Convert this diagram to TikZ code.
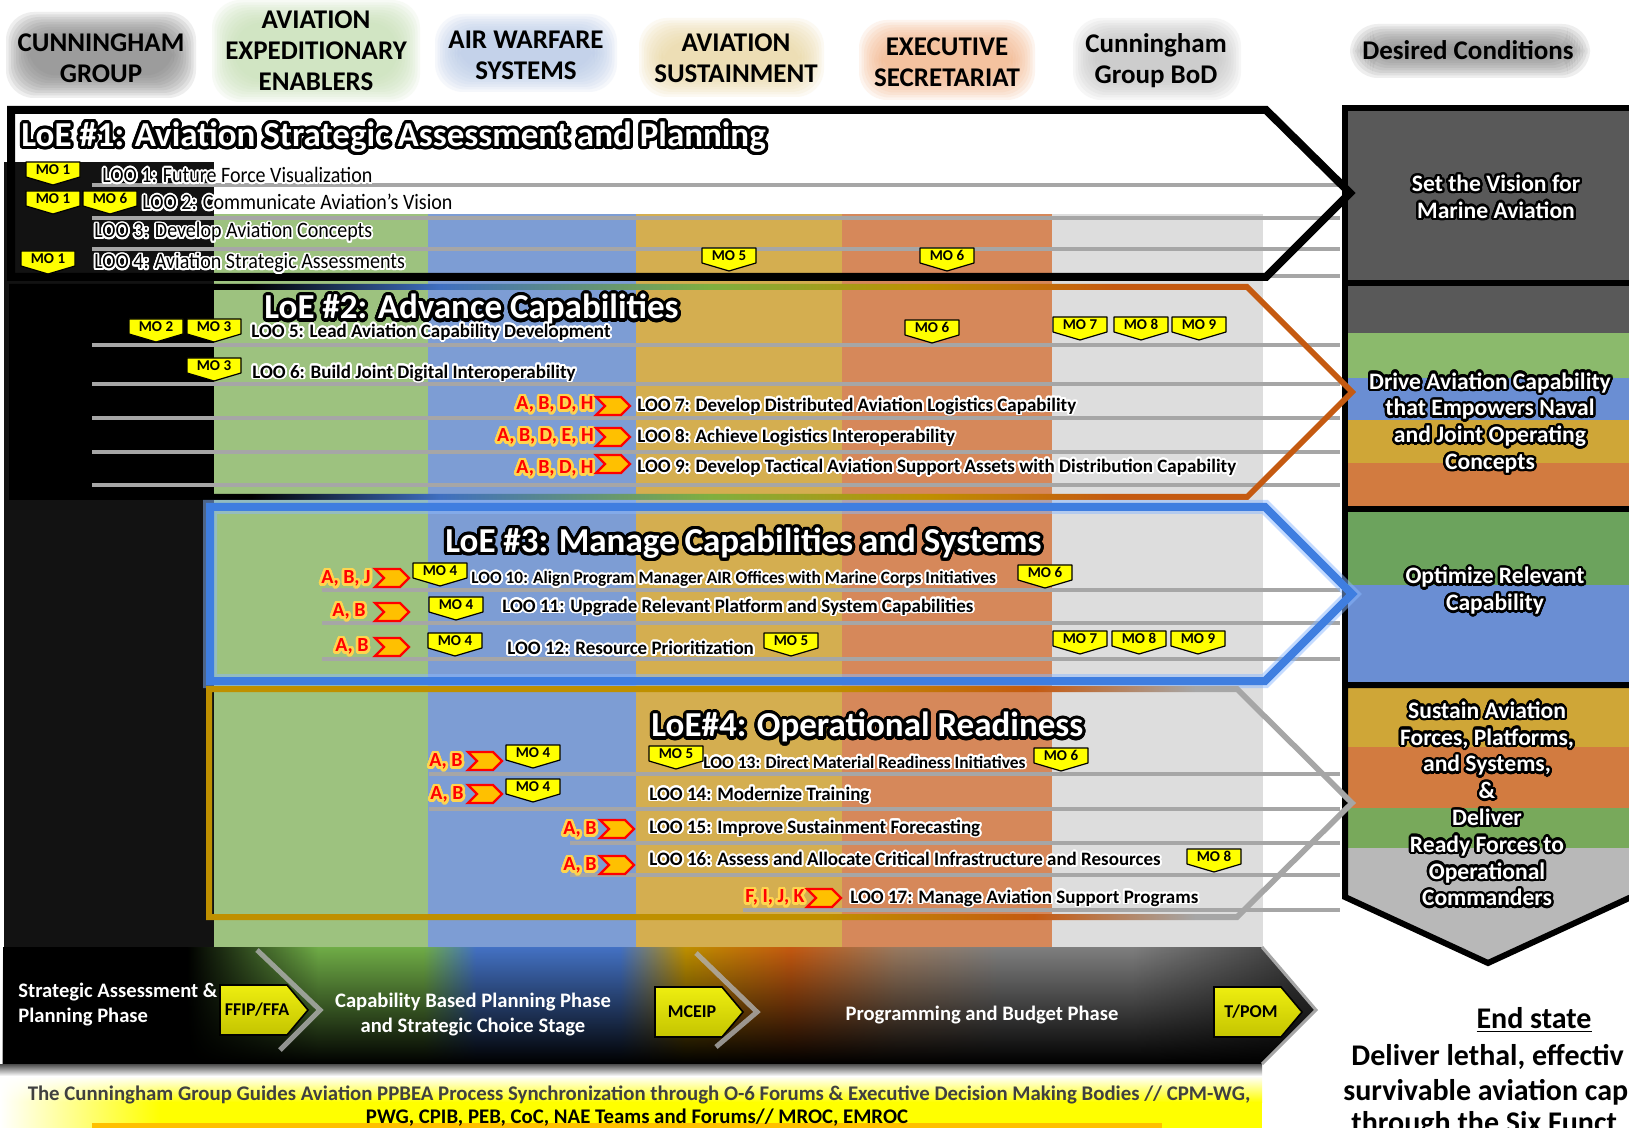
\documentclass[tikz,border=0pt]{standalone}
\usepackage{fontspec}
\setmainfont{Carlito}
\newfontfamily\narrowfont[FakeStretch=0.91]{Carlito}
\usepackage[copies]{contour}
\usetikzlibrary{fadings}

\definecolor{colgreen}{HTML}{9DC27F}
\definecolor{colblue}{HTML}{7D9DD4}
\definecolor{colgold}{HTML}{D4AE50}
\definecolor{colorange}{HTML}{D6885A}
\definecolor{colgray}{HTML}{DDDDDD}
\definecolor{leftblack}{HTML}{121212}
\definecolor{rowgray}{HTML}{A6A6A6}
\definecolor{moyellow}{HTML}{FFFF00}
\definecolor{abred}{HTML}{FF0000}
\definecolor{abfill}{HTML}{FFC000}
\definecolor{abglow}{HTML}{FFD54F}
\definecolor{panelgray}{HTML}{595959}
\definecolor{dcgreen}{HTML}{8BBA6C}
\definecolor{dcblue}{HTML}{6A8ED3}
\definecolor{dcgold}{HTML}{CFA637}
\definecolor{dcorange}{HTML}{D27B40}
\definecolor{dcgreentwo}{HTML}{6CA35D}
\definecolor{dcgreenthree}{HTML}{78A95B}
\definecolor{dcgray}{HTML}{B8B8B8}
\definecolor{edgeblue}{HTML}{3F6FC0}
\definecolor{edgegreen}{HTML}{7FAF3F}
\definecolor{edgegold}{HTML}{BF9000}
\definecolor{edgeorange}{HTML}{C55A11}
\definecolor{edgegray}{HTML}{A6A6A6}
\definecolor{loethree}{HTML}{3F7EE0}
\definecolor{loethreeglow}{HTML}{8AB8FF}
\definecolor{bandgreen}{HTML}{70AD47}
\definecolor{bandblue}{HTML}{4472C4}
\definecolor{bandgold}{HTML}{BF9000}
\definecolor{bandorange}{HTML}{C55A11}
\definecolor{bandbrown}{HTML}{9A7A60}
\definecolor{bandgray}{HTML}{7F7F7F}
\definecolor{gateyellow}{HTML}{EEEE10}
\definecolor{gateolive}{HTML}{C4C400}
\definecolor{bannertext}{HTML}{404040}
\definecolor{bannerline}{HTML}{FFC000}
\definecolor{glowgray}{HTML}{7F7F7F}
\definecolor{glowgreen}{HTML}{C5E0B3}
\definecolor{glowblue}{HTML}{B4C7E7}
\definecolor{glowgold}{HTML}{EAD7A0}
\definecolor{gloworange}{HTML}{F4B183}
\definecolor{glowlight}{HTML}{C0C0C0}

% shadings: visible part runs from 25bp to 75bp
\pgfdeclarehorizontalshading{loetwoedge}{100bp}{color(0bp)=(black); color(25bp)=(black); color(34bp)=(black); color(41bp)=(edgeblue); color(51bp)=(edgegreen); color(59bp)=(edgegold); color(66bp)=(edgeorange); color(100bp)=(edgeorange)}
\pgfdeclarehorizontalshading{loefouredge}{100bp}{color(0bp)=(edgegold); color(52bp)=(edgegold); color(61bp)=(edgeorange); color(68bp)=(edgegray); color(100bp)=(edgegray)}
\pgfdeclarehorizontalshading{phaseband}{100bp}{color(0bp)=(black); color(32bp)=(black); color(37bp)=(bandgreen); color(41bp)=(bandgreen); color(43bp)=(bandblue); color(48.5bp)=(bandblue); color(51bp)=(bandgold); color(55bp)=(bandorange); color(59bp)=(bandbrown); color(63bp)=(bandgray); color(68bp)=(bandgray); color(74bp)=(black!75); color(100bp)=(black!75)}
\tikzfading[name=bandfade, top color=transparent!100, middle color=transparent!80, bottom color=transparent!0]

\contourlength{0.9pt}
\contournumber{24}
\newcommand{\whitehalo}[1]{\contour{white}{#1}}
\newcommand{\blackhalo}[1]{\contour{black}{#1}}
\newcommand{\yellowhalo}[1]{\contour{abglow}{#1}}
\newcommand{\hdrglow}[5]{%
  \foreach \g in {0,...,9}
    \fill[#5, opacity=0.13, rounded corners=14pt] (#1+2.5*\g,#2+2.5*\g) rectangle (#3-2.5*\g,#4-2.5*\g);
}

\tikzset{
  motag/.pic={
    \draw[fill=moyellow, line width=0.6pt, line join=round] (-27,-12) -- (27,-12) -- (27,3) -- (0,11) -- (-27,3) -- cycle;
    \node[inner sep=0pt, font=\bfseries\fontsize{7.5}{8}\selectfont] (-label) at (0,-4.5) {#1};
  },
  abchev/.pic={
    \draw[fill=abfill, draw=abred, line width=1.2pt, line join=miter] (-17,-9) -- (8,-9) -- (17,0) -- (8,9) -- (-17,9) -- (-8,0) -- cycle;
  },
  gate/.pic={
    \draw[top color=gateyellow, bottom color=gateolive, line width=0.8pt] (-44,-25) -- (23,-25) -- (44,0) -- (23,25) -- (-44,25) -- cycle;
    \node[inner sep=0pt, font=\bfseries\fontsize{9}{10}\selectfont] (-label) at (-7,0) {#1};
  }
}

\begin{document}
\begin{tikzpicture}[x=0.5pt, y=-0.5pt,
  hdr/.style={align=center, inner sep=0pt, font=\bfseries\fontsize{13.5}{15.5}\selectfont},
  loetitle/.style={anchor=west, inner sep=0pt, text=white, font=\bfseries\fontsize{17.5}{18}\selectfont},
  loo/.style={anchor=west, inner sep=0pt, font=\bfseries\fontsize{#1}{#1}\selectfont},
  loo/.default=9.5,
  looone/.style={anchor=west, inner sep=0pt, font=\narrowfont\fontsize{11}{11}\selectfont},
  abc/.style={anchor=east, inner sep=0pt, text=abred, font=\bfseries\fontsize{10}{10}\selectfont},
  dctext/.style={align=center, inner sep=0pt, text=white, font=\bfseries\fontsize{11.8}{13.4}\selectfont},
  phase/.style={inner sep=0pt, text=white, font=\bfseries\fontsize{10.3}{12.5}\selectfont},
  bannertxt/.style={inner sep=0pt, font=\bfseries\fontsize{10.4}{11}\selectfont},
  endtext/.style={inner sep=0pt, font=\bfseries\fontsize{15}{16}\selectfont},
  rowline/.style={draw=rowgray, line width=2pt},
]
\useasboundingbox (0,0) rectangle (1629,1128);
\fill[white] (0,0) rectangle (1629,1128);

% column headers
\hdrglow{6}{12}{196}{98}{glowgray}
\hdrglow{212}{0}{420}{102}{glowgreen}
\hdrglow{435}{14}{617}{92}{glowblue}
\hdrglow{639}{18}{824}{97}{glowgold}
\hdrglow{859}{20}{1035}{100}{gloworange}
\hdrglow{1073}{18}{1241}{100}{glowlight}
\hdrglow{1350}{24}{1590}{78}{glowgray}
\node[hdr] (hdrcg) at (101,58) {CUNNINGHAM\\GROUP};
\node[hdr] (hdraee) at (316,51) {AVIATION\\EXPEDITIONARY\\ENABLERS};
\node[hdr] (hdraws) at (526,55) {AIR WARFARE\\SYSTEMS};
\node[hdr] (hdras) at (736,58) {AVIATION\\SUSTAINMENT};
\node[hdr] (hdres) at (947,62) {EXECUTIVE\\SECRETARIAT};
\node[hdr] (hdrbod) at (1156,61) {Cunningham\\Group BoD};
\node[hdr] (hdrdc) at (1468,50) {Desired Conditions};

% office columns
\fill[colgreen] (214,214) rectangle (428,947);
\fill[colblue] (428,214) rectangle (636,947);
\fill[colgold] (636,214) rectangle (842,947);
\fill[colorange] (842,214) rectangle (1052,947);
\fill[colgray] (1052,214) rectangle (1263,947);
\fill[leftblack] (4,162) rectangle (214,947);
\fill[black] (10,287) rectangle (214,497);

% desired conditions
\fill[panelgray] (1345,108) rectangle (1640,283);
\fill[panelgray] (1345,283) rectangle (1640,333);
\fill[dcgreen] (1345,333) rectangle (1640,378);
\fill[dcblue] (1345,378) rectangle (1640,420);
\fill[dcgold] (1345,420) rectangle (1640,463);
\fill[dcorange] (1345,463) rectangle (1640,509);
\fill[dcgreentwo] (1345,509) rectangle (1640,585);
\fill[dcblue] (1345,585) rectangle (1640,685);
\begin{scope}
  \clip (1345,685) -- (1345,897) -- (1488,963) -- (1640,893) -- (1640,685) -- cycle;
  \fill[dcgold] (1345,685) rectangle (1640,747);
  \fill[dcorange] (1345,747) rectangle (1640,808);
  \fill[dcgreenthree] (1345,808) rectangle (1640,848);
  \fill[dcgray] (1345,848) rectangle (1640,970);
\end{scope}
\draw[line width=3pt] (1345,108) rectangle (1640,283);
\draw[line width=3pt] (1345,283) rectangle (1640,509);
\draw[line width=3pt] (1345,509) rectangle (1640,685);
\draw[line width=3pt, line join=miter] (1345,685) -- (1345,897) -- (1488,963) -- (1640,893) -- (1640,685) -- cycle;
\begin{scope}[every node/.append style={execute at begin node={\contourlength{1.2pt}}}]
\node[dctext] (dcvision) at (1496,198) {\blackhalo{Set the Vision for}\\\blackhalo{Marine Aviation}};
\node[dctext] (dcdrive) at (1490,424) {\blackhalo{Drive Aviation Capability}\\\blackhalo{that  Empowers Naval}\\\blackhalo{and Joint Operating}\\\blackhalo{Concepts}};
\node[dctext] (dcoptimize) at (1495,592) {\blackhalo{Optimize Relevant}\\\blackhalo{Capability}};
\node[dctext] (dcsustain) at (1487,805) {\blackhalo{Sustain Aviation}\\\blackhalo{Forces, Platforms,}\\\blackhalo{and Systems,}\\\blackhalo{\&}\\\blackhalo{Deliver}\\\blackhalo{Ready Forces to}\\\blackhalo{Operational}\\\blackhalo{Commanders}};
\end{scope}

% LOO rows
\foreach \y/\xs in {185/92, 218/92, 249/92, 276/92, 345/92, 384/92, 418/92, 452/92, 485/92,
                    590/322, 623/322, 659/322, 774/429, 809/429, 843/570, 875/570, 910/743}
  \draw[rowline] (\xs,\y) -- (1340,\y);

% lines of effort
\draw[line width=4pt, line join=miter] (11,110) -- (1266,110) -- (1350,193) -- (1266,277) -- (11,277) -- cycle;
\shade[shading=loetwoedge, even odd rule] (9,284) -- (1248,284) -- (1356,392) -- (1248,500) -- (9,500) -- cycle
                                           (15,290) -- (1246,290) -- (1348,392) -- (1246,494) -- (15,494) -- cycle;
\draw[loethreeglow, opacity=0.5, line width=7pt, line join=miter] (210,507) -- (1265,507) -- (1352,594) -- (1265,681) -- (210,681) -- cycle;
\draw[loethree, line width=4pt, line join=miter] (210,507) -- (1265,507) -- (1352,594) -- (1265,681) -- (210,681) -- cycle;
\shade[shading=loefouredge, even odd rule] (206,686) -- (1238,686) -- (1356,803) -- (1238,920) -- (206,920) -- cycle
                                           (212,692) -- (1236,692) -- (1348,803) -- (1236,914) -- (212,914) -- cycle;

\node[loetitle] (loe1) at (21,139) {\contourlength{1.6pt}\blackhalo{LoE \#1: Aviation Strategic Assessment and Planning}};
\node[loetitle] (loe2) at (264,311) {\contourlength{1.6pt}\blackhalo{LoE \#2: Advance Capabilities}};
\node[loetitle] (loe3) at (445,545) {\contourlength{1.6pt}\blackhalo{LoE \#3: Manage Capabilities and Systems}};
\node[loetitle] (loe4) at (651,729) {\contourlength{1.6pt}\blackhalo{LoE\#4: Operational Readiness}};

% LoE 1
\node[looone] (loo1) at (102,176) {\whitehalo{LOO 1: Future Force Visualization}};
\node[looone] (loo2) at (142,203) {\whitehalo{LOO 2: Communicate Aviation’s  Vision}};
\node[looone] (loo3) at (94,233) {\whitehalo{LOO 3: Develop Aviation Concepts}};
\node[looone] (loo4) at (94,264) {\whitehalo{LOO 4: Aviation Strategic Assessments}};
\pic (moa) at (53,174) {motag=MO 1};
\pic (mob) at (53,203) {motag=MO 1};
\pic (moc) at (110,203) {motag=MO 6};
\pic (mod) at (48,263) {motag=MO 1};
\pic (moe) at (729,260) {motag=MO 5};
\pic (mof) at (947,260) {motag=MO 6};

% LoE 2
\node[loo] (loo5) at (251,333) {\whitehalo{LOO 5: Lead Aviation Capability  Development}};
\node[loo] (loo6) at (252,374) {\whitehalo{LOO 6: Build Joint Digital  Interoperability}};
\node[loo] (loo7) at (637,407) {\whitehalo{LOO 7: Develop Distributed  Aviation Logistics Capability}};
\node[loo] (loo8) at (637,438) {\whitehalo{LOO 8: Achieve Logistics Interoperability}};
\node[loo] (loo9) at (637,468) {\whitehalo{LOO 9: Develop Tactical Aviation Support Assets with Distribution  Capability}};
\pic (mog) at (156,331) {motag=MO 2};
\pic (moh) at (214,331) {motag=MO 3};
\pic (moi) at (932,332) {motag=MO 6};
\pic (moj) at (1080,329) {motag=MO 7};
\pic (mok) at (1141,329) {motag=MO 8};
\pic (mol) at (1199,329) {motag=MO 9};
\pic (mom) at (214,370) {motag=MO 3};
\begin{scope}[every node/.append style={execute at begin node={\contourlength{1.3pt}}}]
\node[abc] (ab7) at (594,406) {\yellowhalo{A, B, D, H}};
\node[abc] (ab8) at (594,438) {\yellowhalo{A, B, D, E, H}};
\node[abc] (ab9) at (594,470) {\yellowhalo{A, B, D, H}};
\end{scope}
\pic (chev7) at (613,406) {abchev};
\pic (chev8) at (613,437) {abchev};
\pic (chev9) at (613,464) {abchev};

% LoE 3
\node[loo=8.65] (loo10) at (471,580) {\whitehalo{LOO 10: Align Program Manager AIR Offices with Marine Corps Initiatives}};
\node[loo] (loo11) at (502,608) {\whitehalo{LOO 11: Upgrade Relevant Platform and  System Capabilities}};
\node[loo] (loo12) at (507,649) {\whitehalo{LOO 12: Resource Prioritization}};
\pic (mon) at (440,575) {motag=MO 4};
\pic (moo) at (1045,577) {motag=MO 6};
\pic (mop) at (456,609) {motag=MO 4};
\pic (moq) at (455,645) {motag=MO 4};
\pic (mor) at (791,645) {motag=MO 5};
\pic (mos) at (1080,643) {motag=MO 7};
\pic (mot) at (1139,643) {motag=MO 8};
\pic (mou) at (1198,643) {motag=MO 9};
\begin{scope}[every node/.append style={execute at begin node={\contourlength{1.3pt}}}]
\node[abc] (ab10) at (371,580) {\yellowhalo{A, B, J}};
\node[abc] (ab11) at (366,613) {\yellowhalo{A, B}};
\node[abc] (ab12) at (369,648) {\yellowhalo{A, B}};
\end{scope}
\pic (chev10) at (392,578) {abchev};
\pic (chev11) at (392,612) {abchev};
\pic (chev12) at (392,647) {abchev};

% LoE 4
\node[loo=8.7] (loo13) at (703,763) {\whitehalo{LOO 13: Direct Material Readiness Initiatives}};
\node[loo] (loo14) at (649,796) {\whitehalo{LOO 14: Modernize Training}};
\node[loo] (loo15) at (649,829) {\whitehalo{LOO 15: Improve Sustainment Forecasting}};
\node[loo] (loo16) at (649,860) {\whitehalo{LOO 16: Assess and Allocate Critical Infrastructure and Resources}};
\node[loo] (loo17) at (850,899) {\whitehalo{LOO 17: Manage Aviation Support Programs}};
\pic (mov) at (533,757) {motag=MO 4};
\pic (mow) at (676,758) {motag=MO 5};
\pic (mox) at (1061,760) {motag=MO 6};
\pic (moy) at (533,791) {motag=MO 4};
\pic (moz) at (1214,861) {motag=MO 8};
\begin{scope}[every node/.append style={execute at begin node={\contourlength{1.3pt}}}]
\node[abc] (ab13) at (463,763) {\yellowhalo{A, B}};
\node[abc] (ab14) at (464,796) {\yellowhalo{A, B}};
\node[abc] (ab15) at (597,831) {\yellowhalo{A, B}};
\node[abc] (ab16) at (597,867) {\yellowhalo{A, B}};
\node[abc] (ab17) at (805,899) {\yellowhalo{F, I, J, K}};
\end{scope}
\pic (chev13) at (485,761) {abchev};
\pic (chev14) at (485,794) {abchev};
\pic (chev15) at (617,829) {abchev};
\pic (chev16) at (617,865) {abchev};
\pic (chev17) at (824,898) {abchev};

% PPBE phases
\shade[shading=phaseband] (3,947) -- (1262,947) -- (1316,1010) -- (1262,1064) -- (3,1064) -- cycle;
\fill[black, path fading=bandfade] (3,947) -- (1262,947) -- (1316,1010) -- (1262,1064) -- (3,1064) -- cycle;
\draw[black!35, line width=1.5pt] (1262,947) -- (1316,1010) -- (1262,1064);
\draw[black!30, line width=2.5pt, opacity=0.8] (257,950) -- (320,1010) -- (280,1050);
\draw[black!30, line width=2.5pt, opacity=0.8] (696,953) -- (757,1012) -- (716,1047);
\node[phase, anchor=west, align=left] (phsa) at (18,1005) {Strategic Assessment \&\\Planning Phase};
\node[phase, align=center] (phcbp) at (473,1015) {Capability Based Planning Phase\\and Strategic Choice Stage};
\node[phase] (phpb) at (982,1015) {Programming and Budget Phase};
\pic (ffip) at (264,1010) {gate=FFIP/FFA};
\pic (mceip) at (699,1012) {gate=MCEIP};
\pic (tpom) at (1258,1012) {gate=T/POM};

% forums banner
\shade[top color=black!70, bottom color=white] (0,1064) rectangle (1262,1076);
\shade[top color=white, bottom color=moyellow] (0,1076) rectangle (1262,1102);
\fill[moyellow] (0,1102) rectangle (1262,1128);
\fill[white, path fading=east] (0,1076) rectangle (160,1128);
\fill[bannerline] (92,1123) rectangle (1162,1128);
\node[bannertxt, text=bannertext] (forum1) at (639,1095) {The Cunningham Group Guides Aviation  PPBEA Process Synchronization through O-6 Forums \& Executive Decision Making Bodies // CPM-WG,};
\node[bannertxt] (forum2) at (637,1118) {PWG, CPIB, PEB, CoC, NAE Teams and Forums// MROC, EMROC};

% end state
\node[inner sep=0pt, font=\bfseries\fontsize{15}{16}\selectfont] (endstate) at (1534,1020) {\underline{End state}};
\node[endtext, anchor=west] (end1) at (1351,1057) {Deliver lethal, effectiv};
\node[endtext, anchor=west] (end2) at (1343,1092) {survivable aviation cap};
\node[endtext, anchor=west] (end3) at (1351,1125) {through the Six Funct};
\end{tikzpicture}
\end{document}
